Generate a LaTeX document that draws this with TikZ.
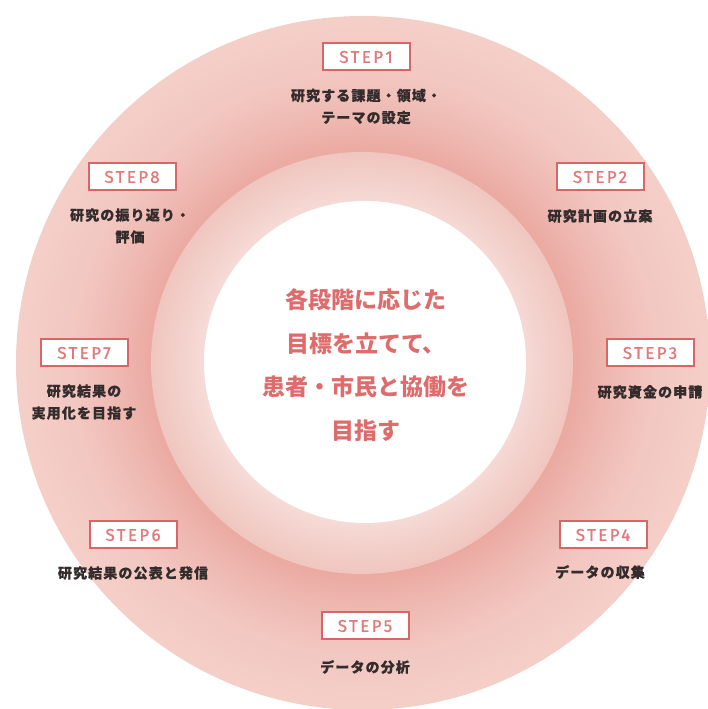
\documentclass[tikz,border=0pt]{standalone}
\usepackage{fontspec}
\newfontfamily\jp{Noto Sans CJK JP}
\newfontfamily\jplabel{Noto Sans CJK JP}[LetterSpace=8,FakeBold=0.6]
\newfontfamily\stepfont{Fira Sans}[LetterSpace=14,FakeBold=1]
\definecolor{boxred}{RGB}{214,102,104}
\definecolor{steptxt}{RGB}{226,120,122}
\definecolor{lbl}{RGB}{52,44,44}
\definecolor{ctr}{RGB}{222,108,108}
\pgfdeclareradialshading{outerring}{\pgfpoint{0bp}{0bp}}{%
  rgb(0bp)=(0.918,0.659,0.627);
  rgb(15bp)=(0.918,0.659,0.627);
  rgb(17.5bp)=(0.933,0.718,0.690);
  rgb(21bp)=(0.949,0.784,0.757);
  rgb(25bp)=(0.957,0.812,0.784);
  rgb(50bp)=(0.957,0.812,0.784)}
\pgfdeclareradialshading{midring}{\pgfpoint{0bp}{0bp}}{%
  rgb(0bp)=(1,1,1);
  rgb(18bp)=(0.969,0.871,0.855);
  rgb(21.5bp)=(0.953,0.820,0.800);
  rgb(25bp)=(0.941,0.776,0.749);
  rgb(50bp)=(0.941,0.776,0.749)}
\tikzset{
  stepbox/.style={draw=boxred, line width=2pt, fill=white, minimum width=87pt,
    minimum height=27pt, inner sep=0pt, text=steptxt,
    font=\stepfont\fontsize{17}{17}\selectfont},
  steplabel/.style={align=center, text=lbl, inner sep=0pt,
    font=\jplabel\bfseries\fontsize{14}{22}\selectfont},
  centertext/.style={align=center, text=ctr, inner sep=0pt,
    font=\jp\bfseries\fontsize{23}{43.5}\selectfont}
}
\begin{document}
\begin{tikzpicture}[x=1pt,y=1pt]
\useasboundingbox (0,0) rectangle (708,709);
\fill[white] (0,0) rectangle (708,709);
% rings
\shade[shading=outerring] (363,346) circle (347);
\shade[shading=midring] (362,346) circle (211);
\fill[white] (365,347) circle (161);
% center text
\node[centertext] (center) at (366,344)
  {各段階に応じた\\目標を立てて、\\患者・市民と協働を\\目指す};
% steps
\node[stepbox] (s1) at (366,652) {STEP1};
\node[steplabel] (l1) at (366,602.5) {研究する課題・領域・\\テーマの設定};
\node[stepbox] (s2) at (600,532) {STEP2};
\node[steplabel] (l2) at (600,493) {研究計画の立案};
\node[stepbox] (s3) at (650,356) {STEP3};
\node[steplabel] (l3) at (650,317) {研究資金の申請};
\node[stepbox] (s4) at (603,174) {STEP4};
\node[steplabel] (l4) at (600,137) {データの収集};
\node[stepbox] (s5) at (365,83) {STEP5};
\node[steplabel] (l5) at (365,42) {データの分析};
\node[stepbox] (s6) at (133,174) {STEP6};
\node[steplabel] (l6) at (133,136) {研究結果の公表と発信};
\node[stepbox] (s7) at (84,356) {STEP7};
\node[steplabel] (l7) at (84,307) {研究結果の\\実用化を目指す};
\node[stepbox] (s8) at (132,532) {STEP8};
\node[steplabel] (l8) at (130,483) {研究の振り返り・\\評価};
\end{tikzpicture}
\end{document}
